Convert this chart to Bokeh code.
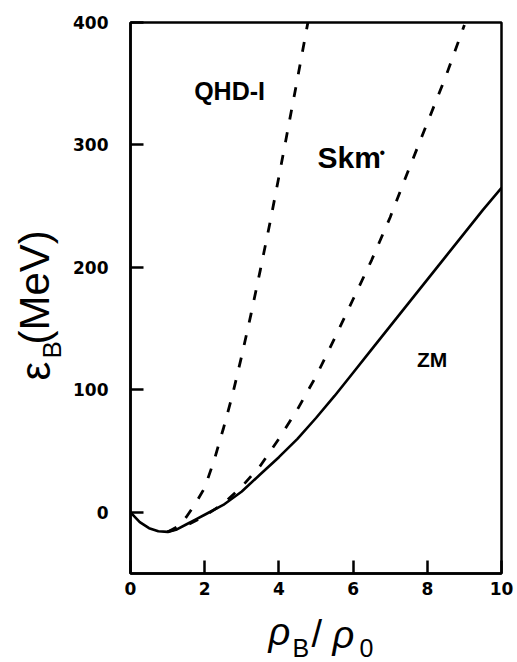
import math
from bokeh.plotting import figure
from bokeh.models import Range1d, FixedTicker, Label
from bokeh.layouts import row, column
from bokeh.core.properties import value
from bokeh.embed import file_html
from bokeh.resources import INLINE

# Energy per baryon (MeV) versus baryon density rho_B / rho_0
zm_rho = [0.0, 0.25, 0.5, 0.75, 1.0, 1.25, 1.5, 1.75, 2.0, 2.5, 3.0, 3.5, 4.0, 4.5,
          5.0, 5.5, 6.0, 6.5, 7.0, 7.5, 8.0, 8.5, 9.0, 9.5, 10.0]
zm_e = [0, -8, -13, -15.5, -16, -14, -10, -6, -2, 6, 17, 31, 45, 60,
        77, 95, 114, 133, 152, 171, 190, 209, 228, 247, 265]

qhd_rho = [1.0, 1.25, 1.5, 1.75, 2.0, 2.25, 2.5, 2.75, 3.0, 3.25, 3.5, 3.75,
           4.0, 4.25, 4.5, 4.75, 4.8]
qhd_e = [-16, -12, -4, 7, 20, 42, 68, 96, 128, 162, 198, 235, 274, 314, 354, 395, 403]

skm_rho = [1.0, 1.5, 2.0, 2.5, 3.0, 3.5, 4.0, 4.5, 5.0, 5.5, 6.0, 6.5, 7.0, 7.5,
           8.0, 8.5, 9.0]
skm_e = [-16, -11, -3, 7, 21, 38, 60, 84, 111, 142, 174, 206, 241, 280, 318, 356, 398]

x_ticks = [0, 2, 4, 6, 8, 10]
y_ticks = [0, 100, 200, 300, 400]

W, H = 517, 662
LEFT_W = 68      # strip holding the vertical title
MAIN_H = 610     # height of the main plot; the horizontal title sits below it

p = figure(width=W - LEFT_W, height=MAIN_H, output_backend="svg", toolbar_location=None,
           title=None, frame_align=False,
           x_range=Range1d(0, 10), y_range=Range1d(-50, 400),
           min_border_left=130 - LEFT_W, min_border_right=16,
           min_border_top=22, min_border_bottom=37)
p.background_fill_color = "white"
p.border_fill_color = "white"
p.grid.visible = False
p.outline_line_color = "black"
p.outline_line_width = 2.5

for ax in (p.xaxis, p.yaxis):
    ax.axis_line_width = 2.5
    ax.axis_line_color = "black"
    ax.major_tick_in = 13
    ax.major_tick_out = 0
    ax.major_tick_line_width = 2.5
    ax.minor_tick_line_color = None
    ax.major_label_text_font = "DejaVu Sans"
    ax.major_label_text_font_style = "bold"
    ax.major_label_text_font_size = "17px"
    ax.major_label_text_color = "black"
    ax.axis_label = None

p.xaxis.ticker = FixedTicker(ticks=x_ticks)
p.yaxis.ticker = FixedTicker(ticks=y_ticks)
p.xaxis.major_label_standoff = 8
p.yaxis.major_label_standoff = 22

# curves
p.line(zm_rho, zm_e, line_color="black", line_width=2.6)
p.line(qhd_rho, qhd_e, line_color="black", line_width=2.8, line_dash="10 13")
p.line(skm_rho, skm_e, line_color="black", line_width=2.8, line_dash="10 13")


# curve names
def curve_name(x, y, text, size, align="center", bold=True):
    p.add_layout(Label(x=x, y=y, text=text, text_font="Liberation Sans",
                       text_font_style="bold" if bold else "normal",
                       text_font_size=f"{size}px", text_align=align, text_color="black"))


curve_name(2.67, 333, "QHD-I", 25)
curve_name(5.04, 276, "Skm", 30, align="left")
curve_name(6.79, 287, "\u2022", 16, bold=False)
curve_name(8.13, 115, "ZM", 21)


def text_strip(width, height, x0):
    f = figure(width=width, height=height, output_backend="svg", toolbar_location=None,
               title=None, frame_align=False,
               x_range=Range1d(x0, x0 + width), y_range=Range1d(0, height),
               x_axis_location=None, y_axis_location=None, min_border=0)
    f.grid.visible = False
    f.outline_line_color = None
    f.background_fill_color = "white"
    f.border_fill_color = "white"
    return f


MID = 0.35  # distance (in em) from the text's baseline up to its vertical anchor


def put(f, sx, sy, text, size, style="normal", rotated=False):
    """Draw text whose baseline starts at page pixel (sx, sy), measured from the top-left."""
    if rotated:
        ax, ay, angle = sx - MID * size, sy, math.pi / 2
    else:
        ax, ay, angle = sx, sy - MID * size, 0.0
    f.text(x=[ax], y=[H - ay], text=[text], angle=angle,
           text_font=value("Liberation Sans"), text_font_size=value(f"{size}px"),
           text_font_style=style, text_align="left", text_baseline="middle",
           text_color="black")


# vertical axis title: epsilon_B (MeV)
ytitle = text_strip(LEFT_W, H, 0)
put(ytitle, 50, 380, "\u03b5", 42, rotated=True)
put(ytitle, 61, 358, "B", 26, rotated=True)
put(ytitle, 49, 344, "(MeV)", 42, rotated=True)

# horizontal axis title: rho_B / rho_0
xtitle = text_strip(W - LEFT_W, H - MAIN_H, LEFT_W)
put(xtitle, 268, 645, "\u03c1", 38, style="italic")
put(xtitle, 292, 656, "B", 25)
put(xtitle, 311, 647, "/", 38)
put(xtitle, 332, 648, "\u03c1", 38, style="italic")
put(xtitle, 359, 656, "0", 25)

layout = row(ytitle, column(p, xtitle, spacing=0), spacing=0)
open("out.html", "w").write(file_html(layout, INLINE))
